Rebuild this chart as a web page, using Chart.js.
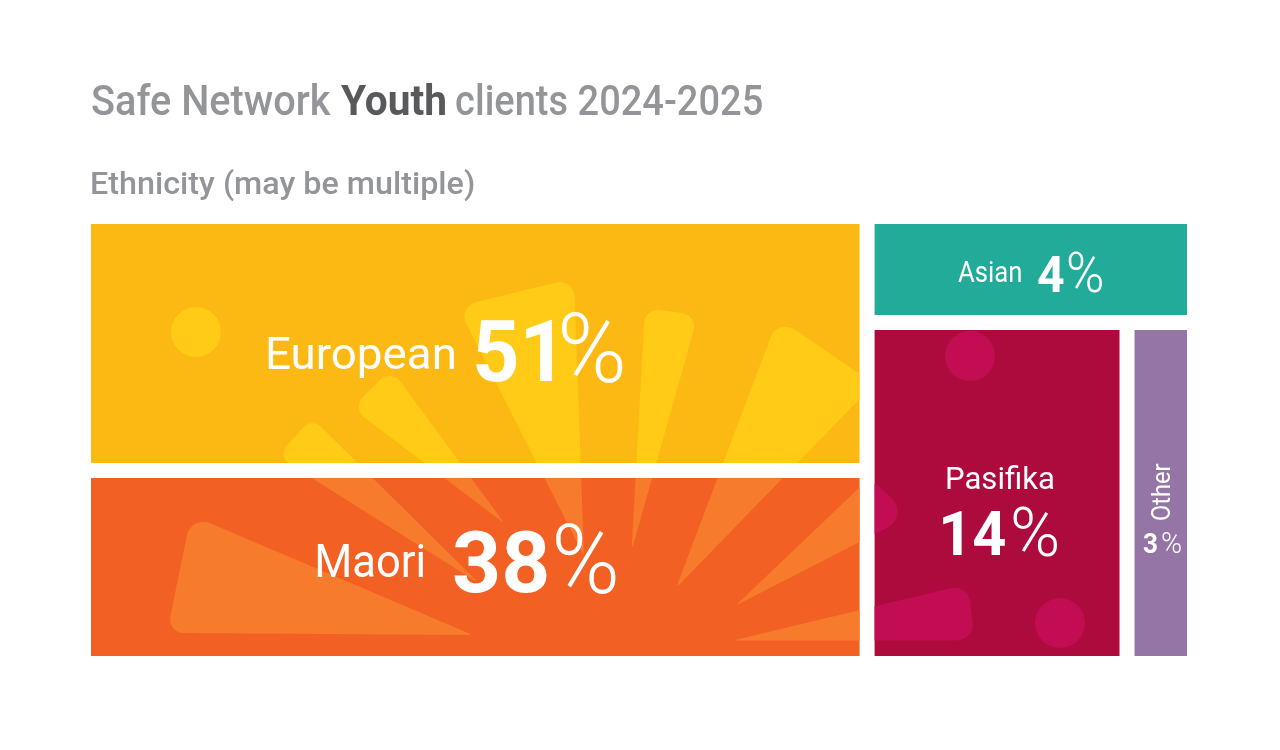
<!DOCTYPE html>
<html><head><meta charset="utf-8">
<script src="https://cdn.jsdelivr.net/npm/chart.js@4"></script>
<style>html,body{margin:0;padding:0;background:#fff}canvas{display:block}</style>
</head><body><canvas id="c" width="1280" height="750"></canvas>
<script>
const categories = ['European','Maori','Asian','Pasifika','Other'];
const percentValues = [51,38,4,14,3];
const cellColours = ['#fdb913','#f36023','#21ab98','#ad0b3e','#9575a6'];
const accentColours = ['#ffcb16','#f77b2c',null,'#c20d52',null];

// treemap layout (plot units = pixels of the plot area)
const PLOT_W = 1096, PLOT_H = 432, GAP = 15;
const LEFT_COLUMN_SHARE = 0.711, ASIAN_HEIGHT_SHARE = 0.218;
const leftW = (PLOT_W-GAP)*LEFT_COLUMN_SHARE, rightX = leftW+GAP, rightW = PLOT_W-rightX;
const innerH = PLOT_H-GAP;
const euroH = innerH*percentValues[0]/(percentValues[0]+percentValues[1]);
const asianH = innerH*ASIAN_HEIGHT_SHARE;
const pasW = (rightW-GAP)*percentValues[3]/(percentValues[3]+percentValues[4]);
const cells = [
 {x0:0,x1:leftW,y0:0,y1:euroH},
 {x0:0,x1:leftW,y0:euroH+GAP,y1:PLOT_H},
 {x0:rightX,x1:PLOT_W,y0:0,y1:asianH},
 {x0:rightX,x1:rightX+pasW,y0:asianH+GAP,y1:PLOT_H},
 {x0:rightX+pasW+GAP,x1:PLOT_W,y0:asianH+GAP,y1:PLOT_H}
];

class TreeCellController extends Chart.BarController {
  _calculateBarIndexPixels(index){
    const c = this.getDataset().cells[index], s = this._cachedMeta.iScale;
    const a = s.getPixelForValue(c.x0), b = s.getPixelForValue(c.x1);
    return {base:a, head:b, center:(a+b)/2, size:b-a};
  }
}
TreeCellController.id = 'treeCell';
TreeCellController.defaults = Chart.BarController.defaults;
TreeCellController.overrides = Chart.BarController.overrides;
Chart.register(TreeCellController);

// decorative background motif: [x,y,cornerRadius] vertices, circles [x,y,r]
const motifPolys = [
 [[457.6,306.8,15],[574,278,15],[584,556,0.6]],
 [[645,308,14],[698,315,14],[631.5,551,0.6]],
 [[778,318,16],[874,384,16],[676,588,0.8]],
 [[352,408,13],[391,369,13],[505,524,0.6]],
 [[277,456,12],[312,418,12],[480,584,0.6]],
 [[191,515,17],[167,633,14],[473,635,0.8]],
 [[735,606,0.6],[869.5,478,14],[911,515.6,18]],
 [[733,640.5,0.5],[968,584,16],[975,640.5,16]]
];
const motifCircles = [[196,332,25],[970,356,25],[1060,623,25]];

function polyPath(ctx,p){
  const n=p.length;
  ctx.beginPath();
  const m0=[(p[n-1][0]+p[0][0])/2,(p[n-1][1]+p[0][1])/2];
  ctx.moveTo(m0[0],m0[1]);
  for(let i=0;i<n;i++){const a=p[i],b=p[(i+1)%n];ctx.arcTo(a[0],a[1],b[0],b[1],a[2]);}
  ctx.closePath();
}
const FONT='Roboto,"Noto Sans",sans-serif';
function fitText(ctx,str,x0,x1,y,size,weight,color){
  ctx.save();
  ctx.font=weight+' '+size+'px '+FONT;
  ctx.fillStyle=color;ctx.textAlign='left';ctx.textBaseline='alphabetic';
  const m=ctx.measureText(str);
  const w=m.actualBoundingBoxRight+m.actualBoundingBoxLeft;
  const k=(x1-x0)/w;
  ctx.translate(x0+m.actualBoundingBoxLeft*k,y);ctx.scale(k,1);
  ctx.fillText(str,0,0);
  ctx.restore();
}
// label placement per cell: label [x0,x1,baseline,size], number, percent
const labelBoxes = [
 {l:[268,454,369,45],n:[476,552,381,86],p:[562,623,382,96]},
 {l:[317,424,577,46],n:[454,547,592,86],p:[556,616,593,96]},
 {l:[958,1021,282,30],n:[1038,1064,292,50],p:[1068,1102,292,55]},
 {l:[947,1054,489,31],n:[943,1005,555,62],p:[1013,1057,556,68]},
 {n:[1143,1157,553,28],p:[1162,1181,553,30]}
];

const treePlugin = {
  id:'treeDecor',
  afterDatasetsDraw(chart){
    const ctx=chart.ctx, bars=chart.getDatasetMeta(0).data;
    bars.forEach((b,i)=>{
      if(!accentColours[i])return;
      const r=b.getProps(['x','y','base','width'],true);
      ctx.save();
      ctx.beginPath();
      ctx.rect(r.x-r.width/2,Math.min(r.y,r.base),r.width,Math.abs(r.y-r.base));
      ctx.clip();
      ctx.fillStyle=accentColours[i];
      motifPolys.forEach(p=>{polyPath(ctx,p);ctx.fill();});
      motifCircles.forEach(c=>{ctx.beginPath();ctx.arc(c[0],c[1],c[2],0,Math.PI*2);ctx.fill();});
      ctx.restore();
    });
    // title
    const grey='#939598', dark='#58595b';
    fitText(ctx,'Safe Network',92,331,115,43,500,grey);
    fitText(ctx,'Youth',341,445,115,43,700,dark);
    fitText(ctx,'clients 2024-2025',456,762,115,43,500,grey);
    fitText(ctx,'Ethnicity (may be multiple)',92,474,194,32,500,grey);
    // cell labels
    labelBoxes.forEach((t,i)=>{
      if(t.l) fitText(ctx,categories[i],t.l[0],t.l[1],t.l[2],t.l[3],400,'#fff');
      fitText(ctx,String(percentValues[i]),t.n[0],t.n[1],t.n[2],t.n[3],700,'#fff');
      fitText(ctx,'%',t.p[0],t.p[1],t.p[2],t.p[3],300,'#fff');
    });
    // rotated "Other"
    ctx.save();
    ctx.translate(1170,520);ctx.rotate(-Math.PI/2);
    fitText(ctx,categories[4],0,57,0,25,400,'#fff');
    ctx.restore();
  }
};

new Chart(document.getElementById('c'),{
  type:'treeCell',
  data:{
    labels:categories,
    datasets:[{
      data:cells.map(c=>({x:(c.x0+c.x1)/2,y:[c.y0,c.y1]})),
      cells:cells,
      backgroundColor:cellColours,
      borderWidth:0
    }]
  },
  options:{
    responsive:false,animation:false,
    devicePixelRatio:1,
    layout:{padding:{left:91,right:93,top:224,bottom:94}},
    plugins:{legend:{display:false},title:{display:false},tooltip:{enabled:false}},
    scales:{
      x:{type:'linear',min:0,max:PLOT_W,display:false,offset:false},
      y:{type:'linear',min:0,max:PLOT_H,reverse:true,display:false}
    }
  },
  plugins:[treePlugin]
});
</script></body></html>
